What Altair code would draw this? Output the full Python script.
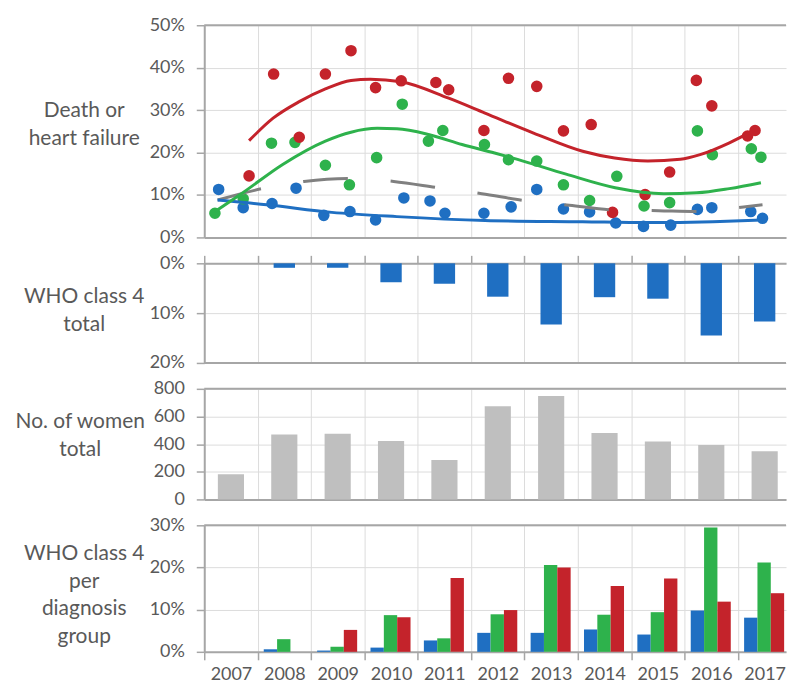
import altair as alt
import pandas as pd

# ---------------- data ----------------
years = list(range(2007, 2018))

# Panel 1: Death or heart failure (scatter, %)
red_x = [2007.84, 2008.30, 2008.78, 2009.27, 2009.75, 2010.21, 2010.69, 2011.34, 2011.58, 2012.24,
         2012.70, 2013.23, 2013.73, 2014.25, 2014.65, 2015.26, 2015.72, 2016.22, 2016.51, 2017.18, 2017.32]
red_y = [14.5, 38.5, 23.6, 38.5, 44.0, 35.3, 36.9, 36.5, 34.8, 25.2,
         37.5, 35.6, 25.1, 26.6, 5.9, 10.1, 15.4, 37.0, 31.0, 23.9, 25.2]
green_x = [2007.20, 2007.73, 2008.26, 2008.70, 2009.27, 2009.72, 2010.23, 2010.71, 2011.20, 2011.47, 2012.25,
           2012.70, 2013.23, 2013.73, 2014.22, 2014.73, 2015.24, 2015.72, 2016.24, 2016.52, 2017.25, 2017.43]
green_y = [5.7, 9.1, 22.2, 22.4, 17.0, 12.4, 18.8, 31.4, 22.7, 25.2, 21.9,
           18.3, 18.0, 12.4, 8.7, 14.4, 7.4, 8.2, 25.1, 19.5, 20.9, 18.9]
blue_x = [2007.27, 2007.73, 2008.27, 2008.72, 2009.24, 2009.73, 2010.21, 2010.74, 2011.23, 2011.51, 2012.24,
          2012.75, 2013.23, 2013.73, 2014.22, 2014.71, 2015.23, 2015.74, 2016.24, 2016.51, 2017.24, 2017.46]
blue_y = [11.3, 7.0, 8.0, 11.6, 5.2, 6.1, 4.1, 9.3, 8.6, 5.7, 5.7,
          7.2, 11.3, 6.7, 6.0, 3.4, 2.6, 2.9, 6.6, 7.0, 6.1, 4.5]

# Panel 1 trend lines
red_tx = [2007.84, 2008.29, 2008.78, 2009.27, 2009.75, 2010.11, 2010.69, 2011.58, 2012.26, 2013.17,
          2014.09, 2014.69, 2015.31, 2015.92, 2016.29, 2016.84, 2017.32]
red_ty = [22.8, 28.1, 32.0, 35.0, 37.0, 37.3, 36.7, 32.8, 29.3, 24.6,
          20.3, 18.7, 18.0, 18.4, 19.5, 22.3, 25.4]
green_tx = [2007.20, 2007.73, 2008.47, 2009.27, 2009.75, 2010.24, 2010.61, 2011.22, 2011.83, 2012.44,
            2012.87, 2013.78, 2014.70, 2015.61, 2016.23, 2016.84, 2017.43]
green_ty = [6.1, 10.6, 17.2, 22.7, 24.8, 25.7, 25.6, 24.2, 21.9, 19.9,
            18.4, 14.9, 11.7, 10.3, 10.5, 11.5, 12.9]
blue_tx = [2007.25, 2008.17, 2009.39, 2010.61, 2012.26, 2014.09, 2015.31, 2016.53, 2017.45]
blue_ty = [8.8, 7.7, 5.9, 4.9, 4.0, 3.7, 3.5, 3.7, 4.1]
gray_tx = [2007.25, 2008.08, 2008.87, 2009.72, 2010.55, 2011.39, 2012.20, 2013.04, 2013.84,
           2014.64, 2015.51, 2016.22, 2017.18, 2017.46]
gray_ty = [8.8, 11.5, 13.2, 13.9, 13.2, 11.7, 10.3, 8.6, 7.6,
           6.5, 6.3, 6.1, 7.3, 7.7]

# Panel 2: WHO class 4 total (%)
who4_total = [0, 0.9, 0.9, 3.8, 4.1, 6.7, 12.3, 6.8, 7.1, 14.5, 11.7]
# Panel 3: No. of women total
women_total = [182, 470, 475, 422, 286, 674, 749, 480, 419, 393, 349]
# Panel 4: WHO class 4 per diagnosis group (%)
who4_blue = [0, 0.6, 0.3, 1.0, 2.7, 4.5, 4.5, 5.3, 4.1, 9.8, 8.1]
who4_green = [0, 3.0, 1.2, 8.7, 3.2, 8.9, 20.6, 8.8, 9.4, 29.5, 21.2]
who4_red = [0, 0, 5.2, 8.2, 17.5, 9.9, 20.0, 15.6, 17.4, 11.9, 13.9]

# ---------------- styling ----------------
FONT = "Lato"
TXT = "#595959"
AX = "#a6a6a6"
GRID = "#dcdcdc"
BLUE = "#1f6fc2"
GREEN = "#2eb24c"
RED = "#c4232b"
GRAY_LINE = "#808080"
BAR_GRAY = "#bfbfbf"
W = 584
XMAX = 2017.9
BANDPX = W / (XMAX - 2007)
H1, H2, H3, H4 = 213, 100, 111, 127
TITLE_X = -121

series_scale = alt.Scale(domain=["blue", "green", "red"], range=[BLUE, GREEN, RED])
xscale = alt.Scale(domain=[2007, XMAX], nice=False, zero=False)


def xaxis(**kw):
    base = dict(values=years, grid=True, gridColor=GRID, gridWidth=1, labels=False, ticks=False,
                domain=True, domainColor=AX, domainWidth=2, title=None)
    base.update(kw)
    return alt.Axis(**base)


def yaxis(vals, title, ty, pct=True, **kw):
    base = dict(values=vals, grid=True, gridColor=GRID, gridWidth=1, domain=True, domainColor=AX,
                domainWidth=2, ticks=True, tickColor=AX, tickSize=8, tickWidth=1.5, labelPadding=12,
                title=title, titleAngle=0, titleAlign="center", titleBaseline="middle",
                titleX=TITLE_X, titleY=ty, labelOverlap=False)
    if pct:
        base["labelExpr"] = "datum.value + '%'"
    base.update(kw)
    return alt.Axis(**base)


def top_rule(h=None):
    enc = dict(x=alt.value(0), x2=alt.value(W), y=alt.value(0 if h is None else h))
    return alt.Chart(pd.DataFrame({"a": [0]})).mark_rule(color=AX, strokeWidth=2).encode(**enc)


# ---------------- panel 1 ----------------
pts = pd.DataFrame({
    "x": blue_x + green_x + red_x,
    "y": blue_y + green_y + red_y,
    "s": ["blue"] * len(blue_x) + ["green"] * len(green_x) + ["red"] * len(red_x),
})
trend = pd.DataFrame({
    "x": blue_tx + green_tx + red_tx,
    "y": blue_ty + green_ty + red_ty,
    "s": ["blue"] * len(blue_tx) + ["green"] * len(green_tx) + ["red"] * len(red_tx),
})
gray = pd.DataFrame({"x": gray_tx, "y": gray_ty})

ax1x = xaxis()
ax1y = yaxis([0, 10, 20, 30, 40, 50], ["Death or", "heart failure"], 86)
y1 = alt.Scale(domain=[0, 50], nice=False)

p1_pts = alt.Chart(pts).mark_circle(size=135, opacity=1).encode(
    x=alt.X("x:Q", scale=xscale, axis=ax1x),
    y=alt.Y("y:Q", scale=y1, axis=ax1y),
    color=alt.Color("s:N", scale=series_scale, legend=None),
)
p1_lines = alt.Chart(trend).mark_line(strokeWidth=3, interpolate="monotone").encode(
    x=alt.X("x:Q", scale=xscale, axis=ax1x),
    y=alt.Y("y:Q", scale=y1, axis=ax1y),
    color=alt.Color("s:N", scale=series_scale, legend=None),
    detail="s:N",
)
p1_gray = alt.Chart(gray).mark_line(strokeWidth=3, color=GRAY_LINE, strokeDash=[45, 43],
                                     interpolate="monotone").encode(
    x=alt.X("x:Q", scale=xscale, axis=ax1x),
    y=alt.Y("y:Q", scale=y1, axis=ax1y),
)
panel1 = alt.layer(p1_pts, p1_gray, p1_lines, top_rule()).properties(width=W, height=H1)

# ---------------- panel 2 ----------------
d2 = pd.DataFrame({"year": years, "v": who4_total})
ax2x = xaxis(orient="top", ticks=True, tickColor=AX, tickSize=8, tickWidth=1.5)
ax2y = yaxis([0, 10, 20], ["WHO class 4", "total"], 33)
p2_bars = alt.Chart(d2).transform_calculate(x0="datum.year + 0.3", x1="datum.year + 0.7").mark_bar(
    color=BLUE).encode(
    x=alt.X("x0:Q", scale=xscale, axis=ax2x),
    x2="x1:Q",
    y=alt.Y("v:Q", scale=alt.Scale(domain=[0, 20], reverse=True, nice=False), axis=ax2y),
    y2=alt.datum(0),
)
panel2 = alt.layer(p2_bars, top_rule(H2)).properties(width=W, height=H2)

# ---------------- panel 3 ----------------
d3 = pd.DataFrame({"year": years, "v": women_total})
ax3x = xaxis()
ax3y = yaxis([0, 200, 400, 600, 800], ["No. of women", "total"], 33, pct=False, titleX=TITLE_X - 4)
p3_bars = alt.Chart(d3).transform_calculate(x0="datum.year + 0.255", x1="datum.year + 0.745").mark_bar(
    color=BAR_GRAY).encode(
    x=alt.X("x0:Q", scale=xscale, axis=ax3x),
    x2="x1:Q",
    y=alt.Y("v:Q", scale=alt.Scale(domain=[0, 800], nice=False), axis=ax3y),
    y2=alt.datum(0),
)
panel3 = alt.layer(p3_bars, top_rule()).properties(width=W, height=H3)

# ---------------- panel 4 ----------------
d4 = pd.DataFrame({
    "year": years * 3,
    "v": who4_blue + who4_green + who4_red,
    "s": ["blue"] * 11 + ["green"] * 11 + ["red"] * 11,
})
ax4x = xaxis(ticks=True, tickColor=AX, tickSize=8, tickWidth=1.5, labels=True, format="d",
              labelOffset=BANDPX / 2, labelFlush=False, labelOverlap=False, labelPadding=6)
ax4y = yaxis([0, 10, 20, 30], ["WHO class 4", "per", "diagnosis", "group"], 28)
p4_bars = alt.Chart(d4).transform_calculate(
    off="datum.s == 'blue' ? 0.115 : (datum.s == 'green' ? 0.365 : 0.615)"
).transform_calculate(x0="datum.year + datum.off", x1="datum.year + datum.off + 0.25").mark_bar().encode(
    x=alt.X("x0:Q", scale=xscale, axis=ax4x),
    x2="x1:Q",
    y=alt.Y("v:Q", scale=alt.Scale(domain=[0, 30], nice=False), axis=ax4y),
    y2=alt.datum(0),
    color=alt.Color("s:N", scale=series_scale, legend=None),
)
panel4 = alt.layer(p4_bars, top_rule()).properties(width=W, height=H4)

chart = alt.vconcat(panel1, panel2, panel3, panel4, spacing=26, bounds="flush").properties(
    padding={"left": 6, "top": 7, "right": 0, "bottom": 0},
).configure_view(stroke=None).configure_axis(
    labelFont=FONT, labelFontSize=18, labelColor=TXT,
    titleFont=FONT, titleFontSize=21, titleColor=TXT, titleFontWeight="normal", titleLineHeight=28,
)

chart.save("out.html", embed_options={"renderer": "svg", "actions": False})
